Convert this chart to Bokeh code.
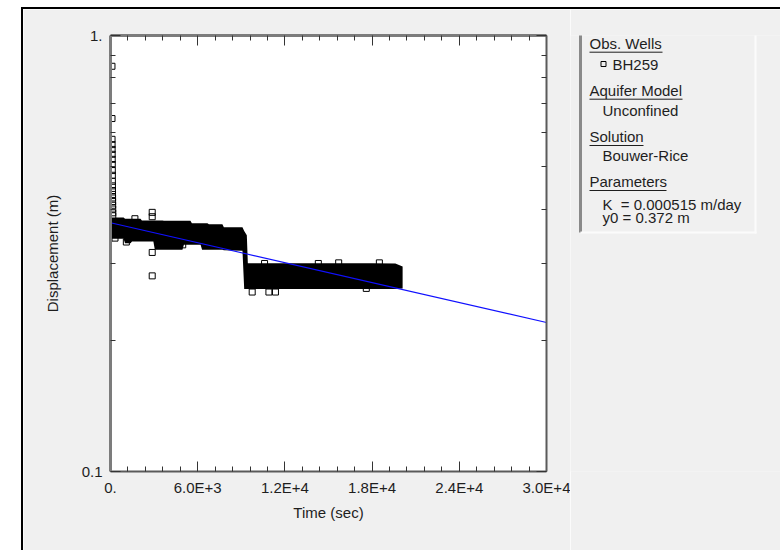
from bokeh.plotting import figure
from bokeh.models import (FixedTicker, LinearAxis, LogAxis, Range1d, BoxAnnotation,
                          CustomJSTickFormatter, Spacer)
from bokeh.layouts import row, column
from bokeh.core.properties import value
from bokeh.embed import file_html
from bokeh.resources import INLINE

# ---------------- data ----------------
x_ticks = [0, 6000, 12000, 18000, 24000, 30000]
x_tick_labels = ["0.", "6.0E+3", "1.2E+4", "1.8E+4", "2.4E+4", "3.0E+4"]
x_minor = [1200, 2400, 3600, 4800, 7200, 8400, 9600, 10800, 13200, 14400, 15600,
           16800, 19200, 20400, 21600, 22800, 25200, 26400, 27600, 28800]
y_ticks = [0.1, 1.0]
y_tick_labels = ["0.1", "1."]
y_minor = [0.2, 0.3, 0.4, 0.5, 0.6, 0.7, 0.8, 0.9]

# early-time readings (sec, m)
early_t = [100, 103, 106, 109, 112, 115, 118, 121, 124, 127, 130, 133, 136, 139,
           142, 145, 148, 151, 154, 157]
early_disp = [0.85, 0.645, 0.578, 0.562, 0.548, 0.534, 0.520, 0.506, 0.490, 0.478,
              0.463, 0.452, 0.441, 0.432, 0.424, 0.416, 0.408, 0.400, 0.392, 0.386]

# dense band of readings: envelope (sec, m)
band_t = [100, 900, 1000, 1380, 1480, 2060, 2160, 2950, 3050, 3580, 3680, 4950,
          5050, 5500, 5600, 6200, 6300, 6670, 6770, 7700, 7800, 9080, 9200, 9380,
          9450, 12000, 15000, 18000, 19600, 20100]
band_hi = [0.3825, 0.3825, 0.3799, 0.3799, 0.3799, 0.3799, 0.3764, 0.3764, 0.3764,
           0.3764, 0.3758, 0.3758, 0.3758, 0.3758, 0.3711, 0.3711, 0.3711, 0.3711,
           0.3692, 0.3692, 0.3633, 0.3633, 0.3560, 0.3480, 0.3004, 0.3004, 0.3004,
           0.3004, 0.3000, 0.2952]
band_lo = [0.3417, 0.3417, 0.3338, 0.3338, 0.3369, 0.3369, 0.3369, 0.3369, 0.3225,
           0.3225, 0.3225, 0.3225, 0.3311, 0.3311, 0.3311, 0.3311, 0.3225, 0.3225,
           0.3225, 0.3225, 0.3215, 0.3210, 0.2622, 0.2622, 0.2622, 0.2622, 0.2622,
           0.2622, 0.2622, 0.2630]

# isolated readings standing out of the band (sec, m)
stray_t = [2870, 2870, 2870, 2870, 310, 1090, 1680, 4400, 4970, 9750, 10900, 11350,
           10600, 14300, 15700, 18500, 17600]
stray_disp = [0.393, 0.384, 0.318, 0.281, 0.343, 0.336, 0.380, 0.331, 0.331, 0.258,
              0.258, 0.258, 0.300, 0.300, 0.301, 0.301, 0.263]

# Bouwer-Rice fitted line (sec, m)
fit_t = [0, 30000]
fit_disp = [0.372, 0.2197]

legend_headers = ["Obs. Wells", "Aquifer Model", "Solution", "Parameters"]
legend_values = ["BH259", "Unconfined", "Bouwer-Rice", "K\u00a0 = 0.000515 m/day",
                 "y0 = 0.372 m"]

# ---------------- styles ----------------
FONT = "Liberation Sans"
FS = "15px"
TXT = "#1e1e1e"
BG = "#f0f0f0"
TOP_B, BOT_B = 26, 79
BASE_FIX = -6.5   # renderer places alphabetic baseline a bit low


def fmt(vals, labs):
    return CustomJSTickFormatter(args=dict(vals=vals, labs=labs), code="""
        const i = vals.findIndex(v => Math.abs(v - tick) <= 1e-9 * Math.max(1, Math.abs(v)));
        return i >= 0 ? labs[i] : '';
    """)


blank = CustomJSTickFormatter(code="return '';")

p = figure(width=547, height=541, x_range=Range1d(0, 30000), y_range=Range1d(0.1, 1.0),
           y_axis_type="log", output_backend="svg", toolbar_location=None,
           min_border_left=87, min_border_right=24, min_border_top=TOP_B,
           min_border_bottom=BOT_B,
           background_fill_color="white", border_fill_color=BG, outline_line_color=None)
p.grid.visible = False


def style_axis(ax, thick):
    ax.axis_line_color = "#7c7c7c" if thick else "#5a5a5a"
    ax.axis_line_width = 3 if thick else 2
    ax.major_tick_in = 10
    ax.major_tick_out = 0
    ax.minor_tick_in = 5
    ax.minor_tick_out = 0
    ax.major_tick_line_color = "#333333"
    ax.minor_tick_line_color = "#333333"
    ax.major_label_text_font = FONT
    ax.major_label_text_font_size = FS
    ax.major_label_text_color = TXT
    ax.axis_label_text_font = FONT
    ax.axis_label_text_font_size = FS
    ax.axis_label_text_font_style = "normal"
    ax.axis_label_text_color = TXT


xb = p.xaxis[0]
xb.ticker = FixedTicker(ticks=x_ticks, minor_ticks=x_minor)
xb.formatter = fmt(x_ticks, x_tick_labels)
xb.axis_label = "Time (sec)"
style_axis(xb, False)
xb.major_label_standoff = 7
xb.axis_label_standoff = 5

yl = p.yaxis[0]
yl.ticker = FixedTicker(ticks=y_ticks, minor_ticks=y_minor)
yl.formatter = fmt(y_ticks, y_tick_labels)
yl.axis_label = "Displacement (m)"
style_axis(yl, True)
yl.major_label_standoff = 8
yl.axis_label_standoff = 18

xt = LinearAxis(ticker=FixedTicker(ticks=x_ticks, minor_ticks=x_minor), formatter=blank)
style_axis(xt, True)
xt.major_label_text_font_size = "0px"
xt.major_label_standoff = 0
p.add_layout(xt, "above")

yr = LogAxis(ticker=FixedTicker(ticks=y_ticks, minor_ticks=y_minor), formatter=blank)
style_axis(yr, False)
yr.major_label_text_font_size = "0px"
yr.major_label_standoff = 0
p.add_layout(yr, "right")

# band of dense observations
p.varea(x=band_t, y1=band_lo, y2=band_hi, fill_color="black")
# individual observations
p.scatter(x=early_t, y=early_disp, marker="square", size=6, fill_alpha=0,
          line_color="black", line_width=1)
p.scatter(x=stray_t, y=stray_disp, marker="square", size=6, fill_alpha=0,
          line_color="black", line_width=1)
# fitted solution
p.line(x=fit_t, y=fit_disp, line_color="#1010ff", line_width=1.2)

# ---------------- legend panel (coordinates = page pixels) ----------------
lf = figure(width=210, height=541, x_range=Range1d(570, 780), y_range=Range1d(471, 35),
            output_backend="svg", toolbar_location=None,
            min_border_left=0, min_border_right=0, min_border_top=TOP_B,
            min_border_bottom=BOT_B,
            x_axis_location=None, y_axis_location=None,
            background_fill_color=BG, border_fill_color=BG, outline_line_color=None)
lf.grid.visible = False

box_l, box_t, box_r, box_b = 580, 32, 755, 232
for (l, r, t, b, c) in [
    (box_l - 1.5, box_r, box_t - 1.5, box_t + 1.5, "#8a8a8a"),
    (box_l - 1.5, box_l + 1.5, box_t - 1.5, box_b, "#8a8a8a"),
    (box_r - 1, box_r + 1, box_t, box_b + 1, "#fbfbfb"),
    (box_l, box_r + 1, box_b - 1, box_b + 1, "#fbfbfb"),
]:
    lf.add_layout(BoxAnnotation(left=l, right=r, top=t, bottom=b, fill_color=c,
                                fill_alpha=1, line_color=None))

hdr_x = [589, 589, 589, 589]
hdr_y = [49, 96, 142.3, 187.3]
hdr_w = [73, 93, 54, 77]
lf.text(x=hdr_x, y=[y + BASE_FIX for y in hdr_y], text=legend_headers,
        text_font=value(FONT), text_font_size=value(FS), text_color=TXT,
        text_baseline="alphabetic")
lf.segment(x0=hdr_x, y0=[y + 2.7 for y in hdr_y],
           x1=[x + w for x, w in zip(hdr_x, hdr_w)], y1=[y + 2.7 for y in hdr_y],
           line_color=TXT, line_width=1)

val_x = [612, 602, 602, 602, 602]
val_y = [70, 116.7, 161.7, 210, 223.3]
lf.text(x=val_x, y=[y + BASE_FIX for y in val_y], text=legend_values,
        text_font=value(FONT), text_font_size=value(FS), text_color=TXT,
        text_baseline="alphabetic")
lf.scatter(x=[603], y=[63.5], marker="square", size=5, fill_alpha=0,
           line_color="black", line_width=1)

# ---------------- page layout with black frame ----------------
black = {"background-color": "black"}
root = column(
    Spacer(width=780, height=7),
    row(
        Spacer(width=21, height=543),
        column(
            Spacer(width=759, height=2, styles=black),
            row(Spacer(width=2, height=541, styles=black), p, lf),
        ),
    ),
)

open("out.html", "w").write(file_html(root, INLINE))
